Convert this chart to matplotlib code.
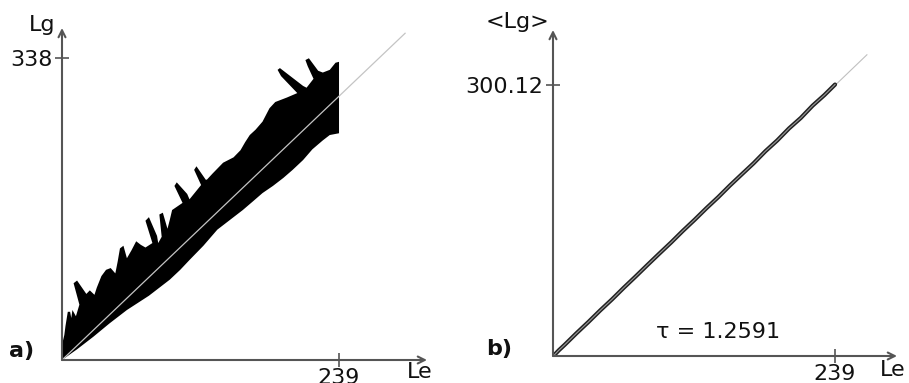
import matplotlib
matplotlib.use('Agg')
import matplotlib.pyplot as plt

plt.rcParams['font.family'] = ['DejaVu Sans']

# ---------------- data ----------------
# panel a) : region covered by all (Le, Lg) samples -- upper envelope (left->right, incl. spikes)
upper_le = [0, 0, 2, 3, 5, 7, 8, 9, 12, 15, 10, 13, 21, 24, 28, 30, 34, 38, 42, 46, 48, 50,
            53, 56, 60, 64, 68, 72, 78, 72, 75, 82, 83, 86, 84, 87, 91, 93, 95, 104, 97, 99, 108,
            110, 120, 114, 116, 124, 125, 130, 139, 148, 154, 158, 162, 167, 173, 179, 184, 194,
            203, 189, 186, 188, 208, 211, 217, 212, 210, 213, 221, 225, 231, 236, 239, 239]
upper_lg = [0, 17, 28, 38, 54, 54, 47, 56, 49, 62, 86, 89, 74, 78, 73, 81, 94, 101, 103, 97, 110,
            125, 128, 114, 123, 133, 129, 126, 131, 156, 160, 139, 131, 138, 163, 165, 147, 157,
            168, 176, 195, 199, 186, 180, 196, 213, 217, 202, 202, 209, 221, 227, 235, 244, 252,
            258, 267, 282, 289, 294, 299, 318, 325, 327, 307, 305, 315, 329, 336, 338, 324, 322,
            325, 333, 334, 254]
# lower envelope (right->left)
lower_le = [231, 225, 216, 208, 199, 191, 182, 173, 165, 156, 145, 134, 122, 110, 102, 93, 75, 56,
            41, 27, 13, 0]
lower_lg = [252, 246, 236, 224, 213, 204, 195, 187, 178, 168, 157, 146, 128, 112, 101, 90, 72, 56,
            41, 26, 12, 0]
ref_a_le = [0, 296]
ref_a_lg = [0, 366]

# panel b) : mean <Lg> vs Le
mean_le = [1, 5, 10, 20, 30, 40, 50, 60, 70, 80, 90, 100, 110, 120, 130, 140, 150, 160, 170,
           180, 190, 200, 210, 220, 230, 239]
mean_lg = [1, 6.4, 12.5, 25.3, 37.6, 50.4, 62.6, 75.5, 87.9, 100.6, 113.1, 125.4, 138.3, 150.6,
           163.4, 175.6, 188.6, 200.9, 213.1, 226.4, 238.3, 251.6, 263.2, 276.8, 288.5, 300.12]
ref_b_le = [0, 266]
ref_b_lg = [0, 333]
tau = "1.2591"

# ---------------- figure ----------------
W, H = 909, 383
fig = plt.figure(figsize=(W / 100, H / 100), dpi=100)


def px_axes(left, top, right, bottom):
    return fig.add_axes([left / W, 1 - bottom / H, (right - left) / W, (bottom - top) / H])


AX_COL = '#555555'
FS = 16


def style(ax, xt, yt, ylab, xpad):
    for s in ax.spines.values():
        s.set_visible(False)
    ax.set_xticks([xt])
    ax.set_xticklabels([str(xt)])
    ax.set_yticks([yt])
    ax.set_yticklabels([ylab])
    ax.tick_params(direction='inout', length=10, width=1.2, color=AX_COL, labelsize=FS,
                   labelcolor='#111111', pad=2)
    ax.tick_params(axis='x', pad=xpad)
    ap = dict(arrowstyle='->,head_length=0.5,head_width=0.25', color=AX_COL, lw=1.5,
              shrinkA=0, shrinkB=0)
    ax.annotate('', xy=(1, 0), xytext=(0, 0), xycoords='axes fraction',
                textcoords='axes fraction', arrowprops=ap, annotation_clip=False)
    ax.annotate('', xy=(0, 1), xytext=(0, 0), xycoords='axes fraction',
                textcoords='axes fraction', arrowprops=ap, annotation_clip=False)


# panel a
ax1 = px_axes(62, 28, 427, 360)
ax1.set_xlim(0, 314.9)
ax1.set_ylim(0, 371.9)
ax1.fill(upper_le + lower_le, upper_lg + lower_lg, color='black', lw=0)
ax1.plot(ref_a_le, ref_a_lg, color='#c4c4c4', lw=0.9)
style(ax1, 239, 338, '338', 1)

# panel b
ax2 = px_axes(553, 30, 897, 356)
ax2.set_xlim(0, 291.5)
ax2.set_ylim(0, 360.4)
ax2.plot(ref_b_le, ref_b_lg, color='#c0c0c0', lw=0.8)
ax2.plot(mean_le, mean_lg, color='#222222', lw=3.0, solid_capstyle='round')
ax2.plot(mean_le, mean_lg, color='#9a9a9a', lw=0.8)
style(ax2, 239, 300.12, '300.12', 1)


def ftext(x, y, s, **kw):
    fig.text(x / W, 1 - y / H, s, fontsize=FS, color='#111111', va='baseline', **kw)


ftext(55, 31, 'Lg', ha='right')
ftext(407, 378, 'Le', ha='left')
ftext(9, 357, 'a)', ha='left', fontweight='bold')
ftext(549, 28, '<Lg>', ha='right')
ftext(880, 376, 'Le', ha='left')
ftext(486, 355, 'b)', ha='left', fontweight='bold')
ftext(656, 338, '\u03c4 = ' + tau, ha='left')

fig.savefig('out.png', dpi=100, facecolor='white')
